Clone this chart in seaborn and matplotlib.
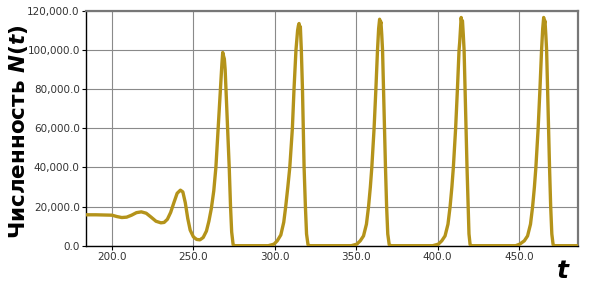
import matplotlib
matplotlib.use("Agg")
import matplotlib.pyplot as plt
import seaborn as sns
import pandas as pd
from matplotlib.ticker import FuncFormatter, FixedLocator

# ---- data ----
t_early = [184, 190, 196, 200, 203, 206, 209, 212, 215, 218, 221, 224, 227, 230, 232, 234,
           236, 238, 240, 242, 243.5, 245, 246.5, 248, 250, 252, 254]
n_early = [15800, 15800, 15700, 15600, 14900, 14400, 14600, 15600, 16900, 17300, 16600, 14600,
           12500, 11700, 11900, 13500, 17000, 22000, 26800, 28400, 27500, 22000, 14000, 8000,
           4500, 3200, 3000]

t_peak1 = [256, 258, 259.5, 261, 262.5, 263.8, 265.2, 266.6, 267.5, 268, 268.5, 269, 269.5,
           270, 271, 272, 272.8, 273.5, 274.4, 275.5]
n_peak1 = [4200, 7500, 12500, 19000, 28000, 40000, 60000, 80000, 93000, 98800, 97000, 95500,
           90000, 80000, 60000, 40000, 20000, 7000, 500, 0]

t_peak2 = [296, 299.5, 301.5, 303.7, 305.5, 306.7, 308, 309.2, 310.8, 311.8, 313, 314, 314.5,
           314.9, 315.3, 315.7, 316.3, 317, 317.5, 318, 318.8, 319.5, 320.4, 321.5]
n_peak2 = [0, 800, 2500, 5500, 12000, 20000, 30000, 40000, 60000, 80000, 100000, 110000, 112500,
           113600, 111000, 112000, 100000, 80000, 60000, 40000, 20000, 6000, 500, 0]

t_peak3 = [347, 350.4, 352.5, 354.5, 356.3, 357.6, 358.7, 359.6, 361, 362.1, 363.1, 363.8,
           364.4, 364.8, 365.2, 365.7, 366.2, 366.8, 367.4, 368, 368.7, 369.4, 370.3, 371.5]
n_peak3 = [0, 800, 2500, 5000, 11000, 20000, 30000, 40000, 60000, 80000, 100000, 111000,
           115800, 113000, 114500, 108000, 100000, 80000, 60000, 40000, 20000, 6000, 500, 0]

t_peak4 = [397, 400.5, 402.6, 404.6, 406.4, 407.7, 408.8, 409.7, 411.1, 412.2, 413.2, 413.6,
           414.0, 414.5, 414.9, 415.3, 415.8, 416.3, 416.9, 417.5, 418.1, 418.8, 419.3, 420, 421]
n_peak4 = [0, 800, 2500, 5000, 11000, 20000, 30000, 40000, 60000, 80000, 100000, 104000,
           110000, 116700, 114000, 115000, 108000, 100000, 80000, 60000, 40000, 20000, 6000, 500, 0]

t_peak5 = [448, 450.5, 453.3, 455.3, 457.1, 458.4, 459.5, 460.4, 461.8, 462.9, 463.9, 464.6,
           465.2, 465.6, 466.0, 466.5, 467.0, 467.6, 468.2, 468.8, 469.5, 470.2, 471.0, 472, 486]
n_peak5 = [0, 800, 2500, 5000, 11000, 20000, 30000, 40000, 60000, 80000, 100000, 111000,
           116700, 113500, 115000, 108000, 100000, 80000, 60000, 40000, 20000, 6000, 500, 0, 0]

x_ticks = [200, 250, 300, 350, 400, 450]
y_ticks = [0, 20000, 40000, 60000, 80000, 100000, 120000]

t_all = t_early + t_peak1 + t_peak2 + t_peak3 + t_peak4 + t_peak5
n_all = n_early + n_peak1 + n_peak2 + n_peak3 + n_peak4 + n_peak5
df = pd.DataFrame({"t": t_all, "N": n_all})

sns.set_theme(style="white")
plt.rcParams["font.family"] = ["DejaVu Sans"]
plt.rcParams["mathtext.fontset"] = "custom"
plt.rcParams["mathtext.it"] = "DejaVu Sans:italic:bold"
plt.rcParams["mathtext.rm"] = "DejaVu Sans:bold"

fig = plt.figure(figsize=(5.9, 2.88), dpi=100)
ax = fig.add_axes([86 / 590, 1 - 245.7 / 288, (577.7 - 86) / 590, (245.7 - 11) / 288])

sns.lineplot(data=df, x="t", y="N", ax=ax, color="#b4931a", linewidth=2.4,
             estimator=None, sort=False, zorder=3)

ax.set_xlim(184, 486.1)
ax.set_ylim(0, 120000)
ax.xaxis.set_major_locator(FixedLocator(x_ticks))
ax.yaxis.set_major_locator(FixedLocator(y_ticks))
ax.xaxis.set_major_formatter(FuncFormatter(lambda v, p: f"{v:,.1f}"))
ax.yaxis.set_major_formatter(FuncFormatter(lambda v, p: f"{v:,.1f}"))
ax.grid(True, color="#8a8a8a", linewidth=0.8)
ax.set_axisbelow(True)
ax.tick_params(axis="both", direction="out", length=3, width=0.8, colors="black",
               labelsize=7.5, labelcolor="#333333", pad=1.5, left=True, bottom=True)

for s in ["left", "bottom"]:
    ax.spines[s].set_color("black")
    ax.spines[s].set_linewidth(1.0)
for s in ["top", "right"]:
    ax.spines[s].set_color("#777777")
    ax.spines[s].set_linewidth(1.6)

ax.set_xlabel("")
ax.set_ylabel("")
fig.text(19 / 590, 1 - 132 / 288, r"Численность $N(t)$", rotation=90, ha="center",
         va="center", fontsize=15.5, fontweight="bold", color="black")
fig.text(563 / 590, 1 - 271 / 288, r"$t$", ha="center", va="center", fontsize=18,
         color="black")

fig.savefig("out.png", dpi=100)
